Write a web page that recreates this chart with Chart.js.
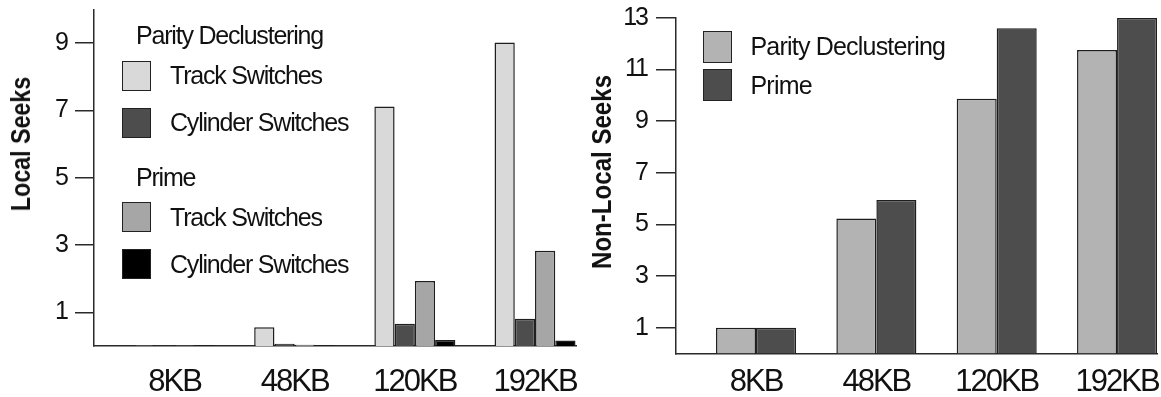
<html>
<head>
	<title>Local / Non-Local Seeks</title>
	<meta charset="utf-8">
	<script src="https://cdn.jsdelivr.net/npm/chart.js"></script>
	<style>
		body { margin: 0; background: #fff; }
		#wrap { position: relative; width: 1161px; height: 397px; overflow: hidden;
			font-family: 'Liberation Sans', Arial, sans-serif; color: #111; }
		.panel { position: absolute; top: 0; height: 397px; }
		.ytitle { position: absolute; font-size: 28px; font-weight: bold; white-space: nowrap;
			transform: translate(-50%, -50%) rotate(-90deg) scaleX(var(--sx)); }
		.legend { position: absolute; font-size: 25px; }
		.lg-head { height: 30px; line-height: 30px; padding-left: 14px; margin-top: 24px; }
		.lg-head:first-child { margin-top: 0; }
		.lg-row { display: flex; align-items: center; margin-top: 17px; }
		.lg-head + .lg-row { margin-top: 10.5px; }
		.lg-box { box-sizing: border-box; border: 1.5px solid #222; flex: none; }
		#localLegend { left: 122px; top: 20px; letter-spacing: -1.2px; }
		#localLegend .lg-row { height: 30px; }
		#localLegend .lg-box { width: 29px; height: 30px; margin-right: 19px; }
		#nonLocalLegend { left: 703px; top: 30.7px; letter-spacing: -0.8px; }
		#nonLocalLegend .lg-row { height: 32px; margin-top: 6.6px; }
		#nonLocalLegend .lg-row:first-child { margin-top: 0; }
		#nonLocalLegend .lg-box { width: 28.5px; height: 32px; margin-right: 19px; }
	</style>
</head>
<body>
	<div id="wrap">
		<div class="panel" style="left:0;width:580px"><canvas id="localSeeks"></canvas></div>
		<div class="panel" style="left:580px;width:581px"><canvas id="nonLocalSeeks"></canvas></div>
		<div class="ytitle" style="left:21px;top:143.5px;--sx:0.83">Local Seeks</div>
		<div class="ytitle" style="left:601.5px;top:172px;--sx:0.86">Non-Local Seeks</div>
		<div id="localLegend" class="legend"></div>
		<div id="nonLocalLegend" class="legend"></div>
	</div>
</body>
<script>
    // 공통 데이터
    const categories = ['8KB', '48KB', '120KB', '192KB'];

    // 왼쪽: Local Seeks
    const localGroups = ['Parity Declustering', 'Parity Declustering', 'Prime', 'Prime'];
    const localLabels = ['Track Switches', 'Cylinder Switches', 'Track Switches', 'Cylinder Switches'];
    const pdTrack = [0.02, 0.56, 7.12, 9.02];
    const pdCylinder = [0.02, 0.07, 0.66, 0.81];
    const primeTrack = [0.02, 0.04, 1.93, 2.83];
    const primeCylinder = [0.02, 0.02, 0.18, 0.16];
    const localTicks = [1, 3, 5, 7, 9];

    // 오른쪽: Non-Local Seeks
    const nonLocalLabels = ['Parity Declustering', 'Prime'];
    const pdNonLocal = [1.0, 5.23, 9.86, 11.75];
    const primeNonLocal = [1.0, 5.94, 12.59, 12.99];
    const nonLocalTicks = [1, 3, 5, 7, 9, 11, 13];

    const fontFamily = "'Liberation Sans', Arial, sans-serif";
    const axisColor = '#2a2a2a';

    const toPoints = (values) => values.map((y, x) => ({ x, y }));

    const makeDataset = (label, values, color) => ({
        label,
        data: toPoints(values),
        backgroundColor: color,
        borderColor: '#1e1e1e',
        borderWidth: 1.5,
    });

    // 글자를 좁게 (원본은 condensed 글꼴)
    const narrowText = {
        id: 'narrowText',
        beforeDraw: (chart) => {
            chart.ctx.letterSpacing = '-2px';
        },
    };

    const makeConfig = (datasets, opts) => ({
        type: 'bar',
        data: { datasets },
        plugins: [narrowText],
        options: {
            responsive: true,
            maintainAspectRatio: false,
            animation: false,
            events: [],
            layout: { padding: { left: 0, right: 4, top: opts.top, bottom: 0 } },
            categoryPercentage: opts.groupWidth,
            barPercentage: 1.0,
            plugins: { legend: { display: false }, tooltip: { enabled: false } },
            scales: {
                x: {
                    type: 'linear',
                    offset: false,
                    min: opts.xMin,
                    max: opts.xMax,
                    grid: { display: false },
                    border: { display: true, color: axisColor, width: 1.5 },
                    ticks: {
                        color: '#111',
                        padding: opts.labelPadding,
                        maxRotation: 0,
                        autoSkip: false,
                        font: { family: fontFamily, size: 31 },
                        callback: (v) => categories[v],
                    },
                    afterBuildTicks: (scale) => {
                        scale.ticks = categories.map((c, i) => ({ value: i }));
                    },
                    afterFit: (scale) => {
                        scale.height = opts.xHeight;
                        scale.paddingLeft = 0;
                        scale.paddingRight = 0;
                    },
                },
                y: {
                    min: 0,
                    max: opts.yMax,
                    grid: {
                        drawOnChartArea: false,
                        drawTicks: true,
                        tickLength: opts.tickLength,
                        tickColor: axisColor,
                        lineWidth: 1.5,
                    },
                    border: { display: true, color: axisColor, width: 1.5 },
                    ticks: {
                        color: '#111',
                        padding: opts.tickPadding,
                        font: { family: fontFamily, size: 25 },
                    },
                    afterBuildTicks: (scale) => {
                        scale.ticks = opts.yTicks.map(v => ({ value: v }));
                    },
                    afterFit: (scale) => {
                        scale.width = opts.yWidth;
                        scale.paddingTop = 0;
                        scale.paddingBottom = 0;
                    },
                },
            },
        },
    });

    const buildLegend = (el, chart, groups) => {
        let html = '';
        let lastGroup = null;
        chart.data.datasets.forEach((ds, i) => {
            if (groups && groups[i] !== lastGroup) {
                html += `<div class="lg-head">${groups[i]}</div>`;
                lastGroup = groups[i];
            }
            html += `<div class="lg-row"><span class="lg-box" style="background:${ds.backgroundColor}"></span><span>${ds.label}</span></div>`;
        });
        el.innerHTML = html;
    };

    const localChart = new Chart(document.getElementById('localSeeks'), makeConfig([
        makeDataset(localLabels[0], pdTrack, '#d9d9d9'),
        makeDataset(localLabels[1], pdCylinder, '#4d4d4d'),
        makeDataset(localLabels[2], primeTrack, '#a6a6a6'),
        makeDataset(localLabels[3], primeCylinder, '#000000'),
    ], {
        top: 9.5, xMin: -0.67, xMax: 3.341, groupWidth: 0.674, xHeight: 51, labelPadding: 10,
        yMax: 10, yTicks: localTicks, yWidth: 94, tickLength: 19, tickPadding: 8,
    }));

    const nonLocalChart = new Chart(document.getElementById('nonLocalSeeks'), makeConfig([
        makeDataset(nonLocalLabels[0], pdNonLocal, '#b3b3b3'),
        makeDataset(nonLocalLabels[1], primeNonLocal, '#4d4d4d'),
    ], {
        top: 17.7, xMin: -0.665, xMax: 3.332, groupWidth: 0.665, xHeight: 43.5, labelPadding: 2.5,
        yMax: 13, yTicks: nonLocalTicks, yWidth: 96, tickLength: 20, tickPadding: 9,
    }));

    buildLegend(document.getElementById('localLegend'), localChart, localGroups);
    buildLegend(document.getElementById('nonLocalLegend'), nonLocalChart, null);
</script>
</html>
